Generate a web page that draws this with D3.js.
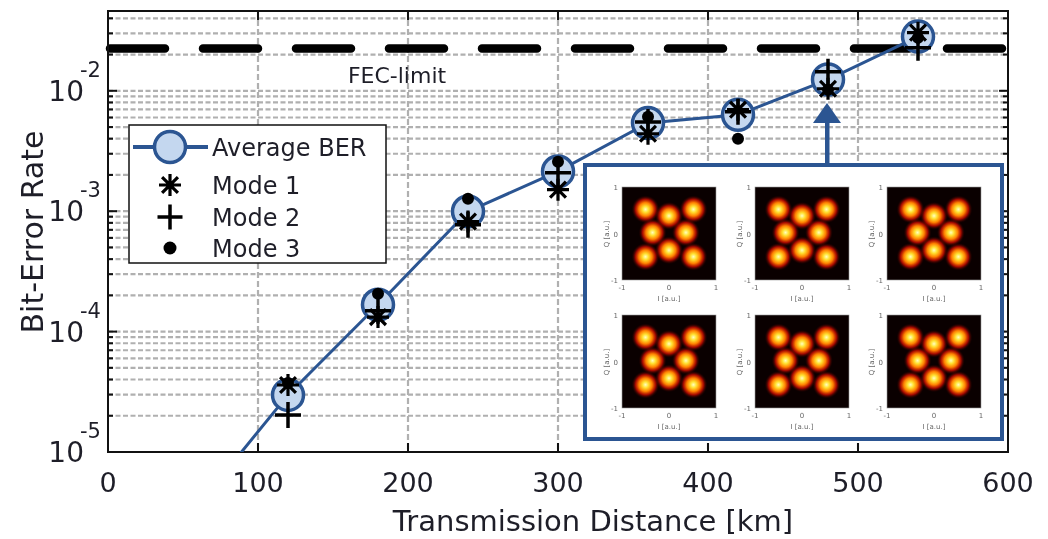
<!DOCTYPE html>
<html>
<head>
<meta charset="utf-8">
<script src="https://cdn.jsdelivr.net/npm/d3@7"></script>
<style>
  body { margin: 0; background: #fff; }
  svg { display: block; font-family: "DejaVu Sans", Verdana, sans-serif; }
</style>
</head>
<body>
<svg id="chart" width="1048" height="539"></svg>
<script>
// Data
const lineDistances = [60, 120, 180, 240, 300, 360, 420, 480, 540];
const averageBer = [3.6e-6, 2.98e-5, 1.67e-4, 9.96e-4, 2.14e-3, 5.4e-3, 6.32e-3, 1.24e-2, 2.82e-2];
const modeDistances = [120, 180, 240, 300, 360, 420, 480, 540];
const mode1Ber = [3.6e-5, 1.32e-4, 8.2e-4, 1.51e-3, 4.4e-3, 6.97e-3, 1.04e-2, 3.04e-2];
const mode2Ber = [2.03e-5, 1.49e-4, 7.7e-4, 2.09e-3, 5.5e-3, 6.7e-3, 1.44e-2, 2.28e-2];
const mode3Ber = [3.75e-5, 2.06e-4, 1.27e-3, 2.58e-3, 6.1e-3, 4.0e-3, 1.02e-2, 2.76e-2];
const fecLimit = 2.25e-2;
const xTickValues = [0, 100, 200, 300, 400, 500, 600];
const yTickValues = [1e-5, 1e-4, 1e-3, 1e-2];
const yTickExponents = ['-5', '-4', '-3', '-2'];
const legendLabels = ['Average BER', 'Mode 1', 'Mode 2', 'Mode 3'];
// constellation points of the inset (I, Q)
const constellation = [[-0.5, 0.52], [0, 0.38], [0.52, 0.52], [-0.35, 0.02], [0.36, 0.02], [-0.5, -0.5], [0, -0.36], [0.52, -0.5]];
const insetTicks = [-1, 0, 1];

const blue = '#2b5592';
const textColor = '#1e1e28';
const svg = d3.select('#chart');

const x = d3.scaleLinear().domain([0, 600]).range([108, 1008]);
const y = d3.scaleLog().domain([1e-5, 0.046]).range([452, 11]);
const [x0, x1] = x.range();
const [yb, yt] = y.range();

const defs = svg.append('defs');
defs.append('clipPath').attr('id', 'plotClip')
  .append('rect')
  .attr('x', x0).attr('y', yt)
  .attr('width', x1 - x0).attr('height', yb - yt);

// hot colormap spot
const grad = defs.append('radialGradient').attr('id', 'spot');
[[0, '#ffffc0', 1], [0.22, '#ffe030', 1], [0.48, '#ff8000', 1], [0.72, '#c00c00', 0.85], [1, '#180000', 0]]
  .forEach(([o, c, a]) => grad.append('stop').attr('offset', o).attr('stop-color', c).attr('stop-opacity', a));

// grid
const gridGroup = svg.append('g');
y.ticks().filter(v => y(v) < yb - 1 && y(v) > yt + 1).forEach(v => {
  gridGroup.append('line')
    .attr('x1', x0).attr('x2', x1)
    .attr('y1', y(v)).attr('y2', y(v))
    .attr('stroke', '#b0b0b0').attr('stroke-width', 2.2)
    .attr('stroke-dasharray', '5,2.5');
});
xTickValues.slice(1, -1).forEach(v => {
  gridGroup.append('line')
    .attr('x1', x(v)).attr('x2', x(v))
    .attr('y1', yt).attr('y2', yb)
    .attr('stroke', '#b0b0b0').attr('stroke-width', 2.2)
    .attr('stroke-dasharray', '6,3');
});

// FEC limit
svg.append('line')
  .attr('x1', x0 + 2).attr('x2', x1 - 5)
  .attr('y1', y(fecLimit)).attr('y2', y(fecLimit))
  .attr('stroke', '#000').attr('stroke-width', 8.5)
  .attr('stroke-linecap', 'round')
  .attr('stroke-dasharray', '55,38');

svg.append('text')
  .attr('x', 397).attr('y', 83)
  .attr('text-anchor', 'middle')
  .attr('font-size', 22).attr('fill', textColor)
  .text('FEC-limit');

// frame and ticks
const axisGroup = svg.append('g').attr('stroke', '#111');
axisGroup.append('rect')
  .attr('x', x0).attr('y', yt)
  .attr('width', x1 - x0).attr('height', yb - yt)
  .attr('fill', 'none').attr('stroke-width', 2);

y.ticks().filter(v => y(v) > yt).forEach(v => {
  const major = yTickValues.includes(v);
  const len = major ? 9 : 5;
  axisGroup.append('line').attr('x1', x0).attr('x2', x0 + len).attr('y1', y(v)).attr('y2', y(v)).attr('stroke-width', 2);
  axisGroup.append('line').attr('x1', x1).attr('x2', x1 - len).attr('y1', y(v)).attr('y2', y(v)).attr('stroke-width', 2);
});
xTickValues.slice(1, -1).forEach(v => {
  axisGroup.append('line').attr('x1', x(v)).attr('x2', x(v)).attr('y1', yb).attr('y2', yb - 9).attr('stroke-width', 2);
  axisGroup.append('line').attr('x1', x(v)).attr('x2', x(v)).attr('y1', yt).attr('y2', yt + 9).attr('stroke-width', 2);
});

// tick labels
xTickValues.forEach(v => {
  svg.append('text')
    .attr('x', x(v)).attr('y', 492)
    .attr('text-anchor', 'middle')
    .attr('font-size', 27).attr('fill', textColor)
    .text(v);
});
yTickValues.forEach((v, i) => {
  svg.append('text')
    .attr('x', 84).attr('y', y(v) + 10)
    .attr('text-anchor', 'end')
    .attr('font-size', 28).attr('fill', textColor)
    .text('10');
  svg.append('text')
    .attr('x', 80).attr('y', y(v) - 14)
    .attr('font-size', 21).attr('fill', textColor)
    .text(yTickExponents[i]);
});

// axis titles
svg.append('text')
  .attr('x', 593).attr('y', 531)
  .attr('text-anchor', 'middle')
  .attr('font-size', 29).attr('fill', textColor)
  .text('Transmission Distance [km]');
svg.append('text')
  .attr('transform', 'translate(43,232) rotate(-90)')
  .attr('text-anchor', 'middle')
  .attr('font-size', 30).attr('fill', textColor)
  .text('Bit-Error Rate');

// marker shapes
function asterisk(g, cx, cy, s) {
  const d = s * 0.72;
  const path = `M${cx},${cy - s}V${cy + s}M${cx - s},${cy}H${cx + s}` +
    `M${cx - d},${cy - d}L${cx + d},${cy + d}M${cx - d},${cy + d}L${cx + d},${cy - d}`;
  g.append('path').attr('d', path).attr('stroke', '#000').attr('stroke-width', 3.2).attr('fill', 'none');
}
function plus(g, cx, cy, s) {
  g.append('path').attr('d', `M${cx},${cy - s}V${cy + s}M${cx - s},${cy}H${cx + s}`)
    .attr('stroke', '#000').attr('stroke-width', 3.5).attr('fill', 'none');
}
function dot(g, cx, cy, r) {
  g.append('circle').attr('cx', cx).attr('cy', cy).attr('r', r).attr('fill', '#000');
}
function bigCircle(g, cx, cy) {
  g.append('circle').attr('cx', cx).attr('cy', cy).attr('r', 15.5)
    .attr('fill', '#c4d7ef').attr('stroke', blue).attr('stroke-width', 3.5);
}

// legend
const legend = svg.append('g');
legend.append('rect')
  .attr('x', 129).attr('y', 125).attr('width', 257).attr('height', 138)
  .attr('fill', '#fff').attr('stroke', '#111').attr('stroke-width', 1.5);
const legendY = [147, 185, 217, 248];
legend.append('line').attr('x1', 133).attr('x2', 208).attr('y1', legendY[0]).attr('y2', legendY[0])
  .attr('stroke', blue).attr('stroke-width', 4);
bigCircle(legend, 170, legendY[0]);
asterisk(legend, 170, legendY[1], 11);
plus(legend, 170, legendY[2], 12.5);
dot(legend, 170, legendY[3], 6.5);
legendLabels.forEach((t, i) => {
  legend.append('text')
    .attr('x', 212).attr('y', legendY[i] + 9)
    .attr('font-size', 24).attr('fill', textColor)
    .text(t);
});

// inset with constellations
const inset = svg.append('g');
inset.append('rect')
  .attr('x', 585).attr('y', 165).attr('width', 417).attr('height', 274)
  .attr('fill', '#fff').attr('stroke', blue).attr('stroke-width', 4);
inset.append('rect').attr('x', 825).attr('y', 120).attr('width', 4.5).attr('height', 45).attr('fill', blue);
inset.append('path').attr('d', 'M827,103L813,123L841,123Z').attr('fill', blue);

const panelX = [622, 755, 887];
const panelY = [187, 315];
const panelSize = 94;
panelY.forEach(py => {
  panelX.forEach(px => {
    const p = inset.append('g');
    const sx = d3.scaleLinear().domain([-1, 1]).range([px, px + panelSize]);
    const sy = d3.scaleLinear().domain([-1, 1]).range([py + panelSize - 1, py]);
    p.append('rect').attr('x', px).attr('y', py).attr('width', panelSize).attr('height', panelSize - 1)
      .attr('fill', '#0a0000').attr('stroke', '#999').attr('stroke-width', 0.6);
    p.selectAll('circle.spot').data(constellation).join('circle')
      .attr('class', 'spot')
      .attr('cx', d => sx(d[0])).attr('cy', d => sy(d[1]))
      .attr('r', 14)
      .attr('fill', 'url(#spot)')
      .style('mix-blend-mode', 'screen');
    insetTicks.forEach(t => {
      p.append('text').attr('x', sx(t)).attr('y', py + panelSize + 9)
        .attr('text-anchor', 'middle').attr('font-size', 7).attr('fill', '#666').text(t);
      p.append('text').attr('x', px - 4).attr('y', sy(t) + 3)
        .attr('text-anchor', 'end').attr('font-size', 7).attr('fill', '#666').text(t);
    });
    p.append('text').attr('x', px + panelSize / 2).attr('y', py + panelSize + 20)
      .attr('text-anchor', 'middle').attr('font-size', 7).attr('fill', '#666').text('I [a.u.]');
    p.append('text')
      .attr('transform', `translate(${px - 13},${py + panelSize / 2}) rotate(-90)`)
      .attr('text-anchor', 'middle').attr('font-size', 7).attr('fill', '#666').text('Q [a.u.]');
  });
});

// data
const dataGroup = svg.append('g').attr('clip-path', 'url(#plotClip)');
const line = d3.line().x((d, i) => x(lineDistances[i])).y(d => y(d));
dataGroup.append('path')
  .datum(averageBer)
  .attr('d', line)
  .attr('fill', 'none').attr('stroke', blue).attr('stroke-width', 3);
averageBer.forEach((v, i) => {
  if (lineDistances[i] < 100) return;
  bigCircle(dataGroup, x(lineDistances[i]), y(v));
});
modeDistances.forEach((d, i) => {
  dot(dataGroup, x(d), y(mode3Ber[i]), 6);
  plus(dataGroup, x(d), y(mode2Ber[i]), 13);
  asterisk(dataGroup, x(d), y(mode1Ber[i]), 11);
});
</script>
</body>
</html>
